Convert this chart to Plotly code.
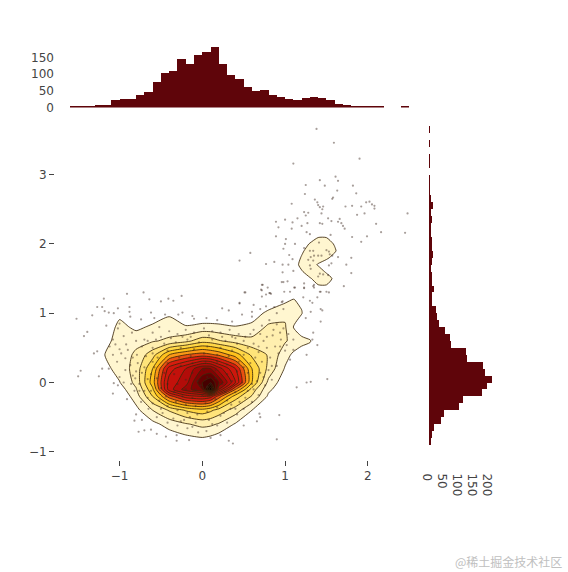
import plotly.graph_objects as go

# ---------- marginal histograms (counts per 0.1 bin) ----------
hist_x_centers = [-1.55,-1.45,-1.35,-1.25,-1.15,-1.05,-0.95,-0.85,-0.75,-0.65,-0.55,-0.45,-0.35,-0.25,-0.15,-0.05,
                  0.05,0.15,0.25,0.35,0.45,0.55,0.65,0.75,0.85,0.95,1.05,1.15,1.25,1.35,1.45,1.55,1.65,1.75,1.85,1.95,2.05,2.15,2.45]
hist_x_counts = [2,4,4,8,8,21,24,24,38,47,77,104,110,146,131,158,167,180,131,98,86,62,50,53,36,31,26,23,27,30,27,21,11,7,4,4,4,2,2]

hist_y_centers = [-0.85,-0.75,-0.65,-0.55,-0.45,-0.35,-0.25,-0.15,-0.05,0.05,0.15,0.25,0.35,0.45,0.55,0.65,0.75,0.85,0.95,1.05,
                  1.15,1.25,1.35,1.45,1.55,1.65,1.75,1.85,1.95,2.05,2.15,2.25,2.35,2.45,2.55,2.65,2.75,2.85,2.95,3.15,3.25,3.45,3.65]
hist_y_counts = [5,9,15,40,50,100,113,175,193,210,187,180,125,123,73,70,53,33,26,22,9,10,17,9,9,7,11,13,11,9,6,8,9,5,13,6,3,2,2,1,1,1,1]

# ---------- density grid (contour levels) ----------
grid_x = [-1.4,-1.2,-1.0,-0.8,-0.6,-0.4,-0.2,0.0,0.1,0.2,0.4,0.6,0.8,1.0,1.1,1.2,1.3,1.4,1.5,1.6,1.7]
grid_y = [-1.0,-0.8,-0.6,-0.4,-0.2,-0.1,0.0,0.2,0.4,0.6,0.8,1.0,1.2,1.4,1.5,1.6,1.7,1.8,1.9,2.0,2.1,2.2]
grid_z = [
 [0,0,0,0,0,0,0,0.3,0.3,0.2,0,0,0,0,0,0,0,0,0,0,0],
 [0,0,0,0,0.1,0.4,0.75,0.95,0.8,0.5,0.2,0,0,0,0,0,0,0,0,0,0],
 [0,0,0,0,0.7,1.4,1.9,2.3,2.2,1.9,0.9,0.3,0,0,0,0,0,0,0,0,0],
 [0,0,0,0.7,2.0,3.1,4.1,4.6,4.2,3.6,2.5,1.0,0.2,0,0,0,0,0,0,0,0],
 [0,0,0.1,1.5,4.0,7.5,9.5,10.0,9.5,7.5,4.5,2.9,0.8,0.2,0,0,0,0,0,0,0],
 [0,0,0.5,1.9,4.8,10.5,12.5,14.0,19.0,12.0,7.0,3.6,1.2,0.3,0,0,0,0,0,0,0],
 [0,0.1,0.95,2.3,5.5,10.5,11.5,15.0,16.0,14.0,10.0,5.0,1.7,0.4,0.1,0,0,0,0,0,0],
 [0,0.6,1.4,2.4,5.0,9.5,11.0,13.0,13.0,11.5,9.0,5.0,2.7,0.9,0.4,0,0,0,0,0,0],
 [0,0.95,1.4,2.2,3.6,6.0,7.0,7.5,7.2,6.8,5.5,3.8,2.9,1.4,0.8,0.5,0.3,0,0,0,0],
 [0,0.75,1.25,1.7,1.9,2.2,2.7,3.6,3.5,3.1,2.6,2.3,2.3,2.1,1.7,1.3,1.1,0.3,0,0,0],
 [0,0,1.35,0.75,1.2,1.45,1.1,1.25,1.25,1.2,1.05,1.3,2.2,2.1,1.0,0.4,0,0,0,0,0],
 [0,0,0.7,0.2,0.3,0.85,0.2,0.3,0.3,0.3,0.3,0.4,1.3,1.8,1.3,1.05,0.3,0,0,0,0],
 [0,0,0,0,0,0,0,0,0,0,0,0,0,0.7,1.02,0.85,0.2,0,0,0,0],
 [0,0,0,0,0,0,0,0,0,0,0,0,0,0,0,0,0.2,0.95,0.95,0.2,0],
 [0,0,0,0,0,0,0,0,0,0,0,0,0,0,0,0.2,0.9,1.4,1.5,0.75,0],
 [0,0,0,0,0,0,0,0,0,0,0,0,0,0,0.1,0.9,1.5,1.5,0.85,0.2,0],
 [0,0,0,0,0,0,0,0,0,0,0,0,0,0,0.5,1.3,1.5,0.9,0.4,0.2,0],
 [0,0,0,0,0,0,0,0,0,0,0,0,0,0,0.3,1.1,1.6,1.5,1.2,0.6,0],
 [0,0,0,0,0,0,0,0,0,0,0,0,0,0,0,0.8,1.5,1.7,1.7,1.15,0.2],
 [0,0,0,0,0,0,0,0,0,0,0,0,0,0,0,0.3,1.1,1.6,1.5,0.9,0],
 [0,0,0,0,0,0,0,0,0,0,0,0,0,0,0,0,0.3,0.95,0.95,0.2,0],
 [0,0,0,0,0,0,0,0,0,0,0,0,0,0,0,0,0,0,0,0,0],
]

# ---------- scatter points ----------
pts_upper = [(1.38,3.66),(1.59,3.46),(1.10,3.16),(1.90,3.23),(1.61,2.97),(1.42,2.92),(1.64,2.91),(1.25,2.85),(1.48,2.84),(1.82,2.84),
 (1.63,2.77),(1.24,2.72),(1.86,2.73),(1.36,2.64),(1.57,2.65),(1.58,2.67),(1.39,2.60),(1.08,2.58),(1.40,2.56),(1.42,2.53),(1.46,2.54),
 (1.73,2.54),(1.81,2.55),(1.92,2.54),(1.98,2.60),(2.02,2.61),(2.05,2.57),(2.08,2.55),(2.08,2.51),(1.45,2.50),(1.23,2.46),(1.28,2.45),
 (1.25,2.41),(1.44,2.44),(1.87,2.42),(1.96,2.44),(2.48,2.44),(1.15,2.37),(1.52,2.37),(0.89,2.32),(1.00,2.35),(1.09,2.31),(1.56,2.33),
 (1.64,2.32),(1.66,2.36),(1.68,2.30),(1.42,2.30),(1.45,2.29),(1.27,2.30),(1.20,2.26),(0.92,2.24),(1.08,2.22),(1.70,2.26),(1.72,2.22),
 (2.10,2.29),(1.26,2.17),(1.30,2.14),(2.16,2.17),(2.45,2.16),(0.89,2.11),(1.55,2.13),(1.81,2.10),(1.99,2.11),(1.01,2.07),(1.92,2.03),
 (1.00,2.00),(1.12,2.00),(1.23,1.94),(0.98,1.93),(0.58,1.87),(1.05,1.84),(1.09,1.78),(0.45,1.76),(0.87,1.74),(0.77,1.71),(0.97,1.70),
 (1.04,1.70),(1.80,1.80),(1.64,1.81),(1.74,1.70),(1.56,1.72),(0.97,1.59),(1.10,1.61),(1.80,1.58),(1.03,1.46),(0.96,1.45),(1.23,1.43),
 (1.34,1.39),(0.73,1.41),(0.79,1.37),(0.71,1.34),(1.23,1.37),(1.71,1.39),(1.12,1.37),(1.35,1.37),(0.52,1.30),(0.77,1.27),(0.81,1.29),
 (0.83,1.28),(0.99,1.31),(1.06,1.31),(1.43,1.31),(1.50,1.31),(0.72,1.24),(1.39,1.23),(0.45,1.15),(0.96,1.16),(1.33,1.15),(0.77,1.10),
 (0.87,1.09),(1.43,1.06),(1.41,2.02),(1.34,1.90),(1.50,1.91),(1.53,1.89),(1.30,1.90),(1.40,1.83),(1.31,1.81),(1.54,1.85),(1.57,1.83),
 (1.44,1.83),(1.35,1.83),(1.34,1.76),(1.30,1.69),(1.28,1.77),(1.53,1.69),(1.31,1.64),(1.42,1.57),(1.46,1.56),(1.40,1.53),(1.52,1.55)]
pts_outer = [(-1.19,1.21),(-0.91,1.28),(-0.71,1.30),(-0.41,1.21),(-0.25,1.25),(-0.64,1.20),(-0.50,1.17),(-0.35,1.18),(-1.27,1.09),(-1.21,1.09),
 (-1.02,1.07),(-0.88,1.09),(-1.18,1.03),(-1.13,1.01),(-1.07,1.00),(-0.88,1.02),(-0.62,1.01),(-0.58,0.93),(-0.29,0.98),(-0.24,1.01),(-0.12,0.96),
 (-1.33,0.97),(-0.87,0.95),(-0.74,0.91),(-1.00,0.85),(-1.02,0.78),(-1.52,0.92),(-1.39,0.73),(-1.43,0.67),(-1.27,0.45),(-1.31,0.42),(-1.47,0.17),
 (-1.50,0.09),(-1.25,0.09),(-1.21,0.20),(-1.13,0.20),(-1.08,-0.16),(-1.07,-0.01),(-1.02,-0.04),(-0.91,-0.24),(-0.80,-0.46),(-0.73,-0.54),
 (-0.77,-0.71),(-0.70,-0.69),(-0.55,-0.74),(-0.31,-0.76),(-0.31,-0.84),(0.32,-0.84),(0.37,-0.88),(0.93,-0.47),(0.90,-0.82),(0.69,-0.45),
 (0.70,-0.50),(1.14,-0.07),(1.26,0.00),(1.31,0.01),(1.51,0.05),(0.24,1.07),(0.32,1.04),(0.45,1.14),(0.51,1.30),(0.72,1.41),(0.72,1.33),
 (0.82,1.29),(0.97,1.17),(0.98,1.45),(1.11,1.37),(1.23,1.36),(1.35,1.41),(1.42,1.31),(1.53,1.30),(0.60,1.02),(0.60,0.95),(0.90,1.00),
 (1.31,1.02),(1.45,1.04),(1.25,0.93),(1.43,0.88),(1.34,0.72),(1.33,0.62),(1.39,0.54),(1.10,0.47),(1.26,0.40),(1.06,0.33),
 (-0.45,0.98),(-0.10,0.92),(0.05,0.93),(0.18,0.90),(0.36,0.88),(0.48,0.98),(0.62,1.12),(0.70,1.06),(0.98,1.06),(1.30,1.18),(1.22,1.23),
 (-1.16,0.82),(-0.82,-0.55),(-0.62,-0.68),(-0.44,-0.78),(-0.16,-0.83),(0.10,-0.80),(0.22,-0.76),(0.50,-0.62),(0.66,-0.56)]
pts_inner = [(-1.08,0.62),(-1.12,0.52),(-0.95,0.67),(-0.85,0.72),(-1.00,0.48),(-0.93,0.35),(-1.08,0.40),(-0.87,0.25),(-0.93,0.18),(-1.00,0.08),
 (-0.81,0.06),(-0.79,0.40),(-0.73,0.14),(-0.73,0.52),(-0.92,0.55),(-1.03,0.30),(-0.80,0.60),(-0.60,0.72),(-0.52,0.80),(-0.40,0.74),(-0.30,0.70),
 (-0.20,0.76),(-0.10,0.72),(0.02,0.78),(0.12,0.74),(0.22,0.72),(0.33,0.76),(0.44,0.70),(0.52,0.66),(0.62,0.76),(0.72,0.82),(0.81,0.90),
 (0.90,0.84),(0.98,0.78),(1.04,0.70),(1.10,0.62),(0.95,0.62),(0.85,0.68),(0.74,0.60),(0.62,0.56),(0.88,0.52),(1.00,0.46),(0.92,0.42),(0.82,0.36),
 (0.90,0.24),(0.80,0.18),(0.84,0.04),(0.76,-0.04),(0.68,-0.18),(0.60,-0.28),(0.50,-0.38),(0.42,-0.46),(0.30,-0.58),(0.18,-0.62),(0.05,-0.70),
 (-0.05,-0.72),(-0.18,-0.66),(-0.30,-0.62),(-0.42,-0.58),(-0.55,-0.50),(-0.65,-0.38),(-0.74,-0.28),(-0.82,-0.12),(-0.70,-0.12),(-0.60,-0.30),
 (-0.48,-0.44),(-0.35,-0.52),(-0.22,-0.54),(-0.08,-0.58),(0.08,-0.54),(0.22,-0.48),(0.34,-0.38),(0.45,-0.28),(0.55,-0.12),(0.66,0.02),(0.70,0.14),
 (0.72,0.30),(0.68,0.44),(0.55,0.50),(0.42,0.56),(0.28,0.60),(0.12,0.62),(-0.04,0.58),(-0.18,0.62),(-0.32,0.58),(-0.46,0.56),(-0.60,0.50),(-0.68,0.38),
 (-0.70,0.22),(-0.66,0.05),(-0.62,-0.12),(-0.52,-0.26),(-0.42,-0.34),(-0.30,-0.40),(-0.18,-0.44),(-0.06,-0.46),(0.06,-0.42),(0.18,-0.36),(0.30,-0.26),
 (0.40,-0.14),(0.48,0.00),(0.55,0.14),(0.58,0.28),(0.50,0.40),(0.36,0.46),(0.22,0.50),(0.06,0.52),(-0.10,0.48),(-0.26,0.50),(-0.42,0.46),(-0.54,0.36),
 (-0.58,0.22),(-0.55,0.06),(-0.50,-0.08),(-0.44,-0.20),(-0.32,-0.28),(-0.20,-0.32),(-0.08,-0.34),(0.04,-0.30),(0.16,-0.24),(0.28,-0.14),(0.36,0.02),
 (0.42,0.16),(0.44,0.30),(0.32,0.38),(0.18,0.40),(0.02,0.42),(-0.14,0.38),(-0.28,0.36),(-0.42,0.28),(-0.46,0.14),(-0.42,-0.02),(-0.34,-0.14),
 (-0.24,-0.20),(-0.12,-0.22),(0.00,-0.18),(0.14,-0.14),(0.24,-0.02),(0.30,0.12),(0.30,0.26),(0.18,0.30),(0.04,0.30),(-0.12,0.28),(-0.26,0.24),
 (-0.34,0.12),(-0.30,-0.02),(-0.20,-0.10),(-0.08,-0.10),(0.06,-0.06),(0.16,0.06),(0.16,0.18),(0.02,0.18),(-0.12,0.14),(-0.20,0.04),(-0.06,0.02),
 (0.06,0.08),(-0.02,-0.04),(0.10,-0.02),(0.64,0.36),(0.50,0.22),(0.60,-0.02),(0.35,-0.32),(-0.15,-0.50),(-0.60,0.30),(-0.76,-0.02),(-0.66,0.60),
 (-0.50,0.66),(-0.24,0.66),(0.36,0.66),(0.50,0.60),(0.70,0.70),(0.94,0.72),(1.02,0.54),(0.78,0.50),(-0.95,0.00),(-0.86,-0.02),(-0.80,0.16),
 (-1.05,0.55),(-0.98,0.42),(-0.90,0.47),(-0.84,0.36),(-0.78,0.28),(-0.70,0.62),(-0.56,0.62),(-0.38,0.64),(-0.14,0.66),(0.08,0.68),(0.24,0.66),
 (0.40,0.64),(0.58,0.70),(0.68,0.52),(0.78,0.66),(0.86,0.76),(0.94,0.52),(0.84,0.24),(0.74,0.08),(0.62,-0.10),(0.52,-0.22),(0.40,-0.38),
 (0.26,-0.44),(0.12,-0.60),(-0.12,-0.64),(-0.26,-0.56),(-0.50,-0.38),(-0.66,-0.22),(-0.76,-0.12),(-0.84,0.10),(-0.62,0.12),(-0.60,0.42)]

scatter_x = [p[0] for p in pts_upper + pts_outer + pts_inner]
scatter_y = [p[1] for p in pts_upper + pts_outer + pts_inner]

x_range = [-1.78, 2.57]
y_range = [-1.118, 3.716]
W, H = 568, 572
DARK = "rgb(95,5,10)"

hot_rev = [[0,"rgb(255,255,255)"],[0.049,"rgb(255,255,255)"],[0.05,"rgb(255,246,210)"],[0.10,"rgb(255,240,180)"],
           [0.15,"rgb(255,230,130)"],[0.25,"rgb(255,205,30)"],[0.33,"rgb(250,140,20)"],[0.40,"rgb(220,30,15)"],
           [0.55,"rgb(190,15,10)"],[0.65,"rgb(150,5,5)"],[0.75,"rgb(90,0,0)"],[0.85,"rgb(40,0,0)"],[1,"rgb(5,0,0)"]]

fig = go.Figure()
fig.add_trace(go.Contour(x=grid_x, y=grid_y, z=grid_z, zmin=0, zmax=20, colorscale=hot_rev, showscale=False,
                         autocontour=False, contours=dict(start=1, end=19, size=1, coloring="fill"),
                         line=dict(width=1, smoothing=0.6, color="rgba(60,40,10,0.85)"), hoverinfo="skip"))
fig.add_trace(go.Scatter(x=scatter_x, y=scatter_y, mode="markers",
                         marker=dict(size=2.2, color="rgb(60,40,30)", opacity=0.45), hoverinfo="skip"))
fig.add_trace(go.Bar(x=hist_x_centers, y=hist_x_counts, width=0.1, marker=dict(color=DARK, line=dict(width=0)), xaxis="x3", yaxis="y2"))
fig.add_trace(go.Bar(y=hist_y_centers, x=hist_y_counts, width=0.1, orientation="h", marker=dict(color=DARK, line=dict(width=0)), xaxis="x2", yaxis="y3"))

FONT = dict(family="DejaVu Sans, Verdana, sans-serif", size=12, color="#444")
fig.update_layout(
    width=W, height=H, autosize=False, showlegend=False, bargap=0,
    margin=dict(l=0, r=0, t=0, b=0, pad=0, autoexpand=False), paper_bgcolor="white", plot_bgcolor="white", font=FONT,
    xaxis=dict(domain=[55/W, 415/W], range=x_range, showgrid=False, zeroline=False, ticks="outside", ticklen=5,
               tickvals=[-1,0,1,2], showline=False, anchor="y"),
    yaxis=dict(domain=[1-460/H, 1-125/H], range=y_range, showgrid=False, zeroline=False, ticks="outside", ticklen=5,
               tickvals=[-1,0,1,2,3], showline=False, anchor="x"),
    xaxis2=dict(domain=[429/W, 502/W], range=[0,243], showgrid=False, zeroline=False, tickvals=[0,50,100,150,200],
                tickangle=90, anchor="y3", side="bottom", ticks="outside", ticklen=10, tickcolor="rgba(0,0,0,0)", ticklabelshift=-2),
    yaxis3=dict(domain=[1-460/H, 1-125/H], range=y_range, showticklabels=False, showgrid=False, zeroline=False, anchor="x2"),
    yaxis2=dict(domain=[1-107.5/H, 1-40/H], range=[0,202], showgrid=False, zeroline=False, tickvals=[0,50,100,150], anchor="x3"),
    xaxis3=dict(domain=[55/W, 415/W], range=x_range, showticklabels=False, showgrid=False, zeroline=False, anchor="y2"),
)
fig.add_annotation(text="@稀土掘金技术社区", xref="paper", yref="paper", x=564/W, y=1-561/H, xanchor="right", yanchor="middle",
                   showarrow=False, font=dict(family="Noto Sans CJK SC", size=12, color="#c0c0c0"))
fig.write_html("out.html", config=dict(displayModeBar=False),
               post_script="document.body.style.margin='0';document.documentElement.style.overflow='hidden';")
